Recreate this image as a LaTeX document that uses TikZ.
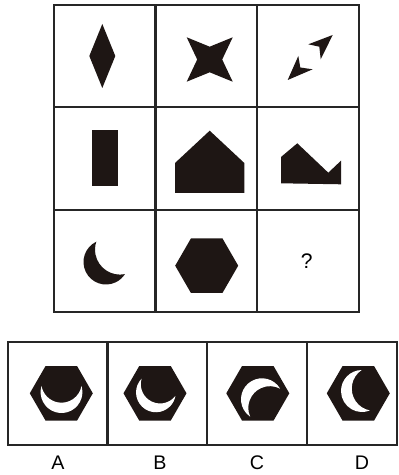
\documentclass[tikz,border=0pt]{standalone}
\usepackage{fontspec}
\setmainfont{Liberation Sans}
\usepackage{tikz}
\usetikzlibrary{shapes.geometric, positioning}
\definecolor{ink}{HTML}{1E1614}
\definecolor{rule}{HTML}{262626}
\tikzset{
  cell/.style={
    rectangle, draw=rule, line width=1.5pt, outer sep=0pt, inner sep=0pt,
    minimum width=2.5375cm, minimum height=2.558cm
  },
  optcell/.style={
    cell, minimum width=2.4875cm, minimum height=2.575cm
  },
  hexa/.style={
    regular polygon, regular polygon sides=6, fill=ink,
    inner sep=0pt, outer sep=0pt, minimum size=1.575cm
  },
  blob/.style={fill=ink},
  qmark/.style={font=\fontsize{15}{17}\selectfont, inner sep=0pt},
  optlabel/.style={font=\fontsize{14}{16}\selectfont, inner sep=0pt}
}
% crescent: colour, outer radius, offset of inner circle, inner radius
\newcommand{\moon}[4]{%
  \pgfmathsetmacro{\ma}{(#2*#2-#4*#4+#3*#3)/(2*#3)}%
  \pgfmathsetmacro{\mh}{sqrt(#2*#2-\ma*\ma)}%
  \pgfmathsetmacro{\malpha}{atan2(\mh,\ma)}%
  \pgfmathsetmacro{\mbeta}{atan2(\mh,\ma-#3)}%
  \fill[#1] (\malpha:#2) arc[start angle=\malpha, end angle=360-\malpha, radius=#2]
    arc[start angle=360-\mbeta, end angle=\mbeta, radius=#4] -- cycle;}

\begin{document}
\begin{tikzpicture}[x=0.025cm, y=0.025cm]
  \fill[white] (0,0) rectangle (398,475);

  % puzzle grid
  \node[cell] (c11) at (104.75,418.83) {};
  \node[cell, right=0pt of c11] (c12) {};
  \node[cell, right=0pt of c12] (c13) {};
  \node[cell, below=0pt of c11] (c21) {};
  \node[cell, right=0pt of c21] (c22) {};
  \node[cell, right=0pt of c22] (c23) {};
  \node[cell, below=0pt of c21] (c31) {};
  \node[cell, right=0pt of c31] (c32) {};
  \node[cell, right=0pt of c32] (c33) {};

  % row 1
  \fill[blob] (102.3,451) -- (115.3,419) -- (102.3,387) -- (89.3,419) -- cycle;
  \fill[blob] (186.7,437.7) -- (209.7,428.3) -- (232.7,437.7) -- (222.2,415.5)
    -- (232.7,393.3) -- (209.7,402.7) -- (186.7,393.3) -- (197.2,415.5) -- cycle;
  \fill[blob] (332.7,440) -- (308.3,430.7) -- (319.3,428.3) -- (320.7,415.7) -- cycle;
  \fill[blob] (287.7,395) -- (298.3,419) -- (300.3,407.5) -- (312.7,405.7) -- cycle;

  % row 2
  \fill[blob] (91.7,289) rectangle (118.3,345);
  \fill[blob] (209.7,344.3) -- (244.3,312) -- (244.3,282) -- (175,282) -- (175,312) -- cycle;
  \fill[blob] (281,318) -- (297.3,331.7) -- (328.3,302.3) -- (341,314.3)
    -- (341,290.7) -- (281,291.7) -- cycle;

  % row 3
  \begin{scope}[shift={(106,213)}, rotate=41.5]
    \moon{ink}{22.5}{18.7}{25}
  \end{scope}
  \node[hexa] (hex) at (206.7,209.3) {};
  \node[qmark] (ask) at (306.7,214.2) {?};

  % answer strip
  \node[optcell] (oA) at (57.75,81.5) {};
  \node[optcell, right=0pt of oA] (oB) {};
  \node[optcell, right=0pt of oB] (oC) {};
  \node[optcell, right=0pt of oC, minimum width=2.2625cm] (oD) {};

  \node[hexa] (hexA) at (61.3,81.7) {};
  \node[hexa] (hexB) at (155,81.7) {};
  \node[hexa] (hexC) at (257.8,81.7) {};
  \node[hexa] (hexD) at (358.3,81.7) {};

  \begin{scope}[shift={(61.5,82.9)}, rotate=90]
    \moon{white}{20.9}{9.7}{20.3}
  \end{scope}
  \begin{scope}[shift={(155.9,82.6)}, rotate=63, scale=0.95]
    \moon{white}{20.9}{9.7}{20.3}
  \end{scope}
  \begin{scope}[shift={(262,75.7)}, rotate=-47]
    \moon{white}{21}{11.7}{21.7}
  \end{scope}
  \begin{scope}[shift={(362,84)}, rotate=11.5]
    \moon{white}{21}{12.3}{22.3}
  \end{scope}

  \node[optlabel] (lA) at (58,12.1) {A};
  \node[optlabel] (lB) at (160,12.1) {B};
  \node[optlabel] (lC) at (257,12.1) {C};
  \node[optlabel] (lD) at (362,12.1) {D};
\end{tikzpicture}
\end{document}
